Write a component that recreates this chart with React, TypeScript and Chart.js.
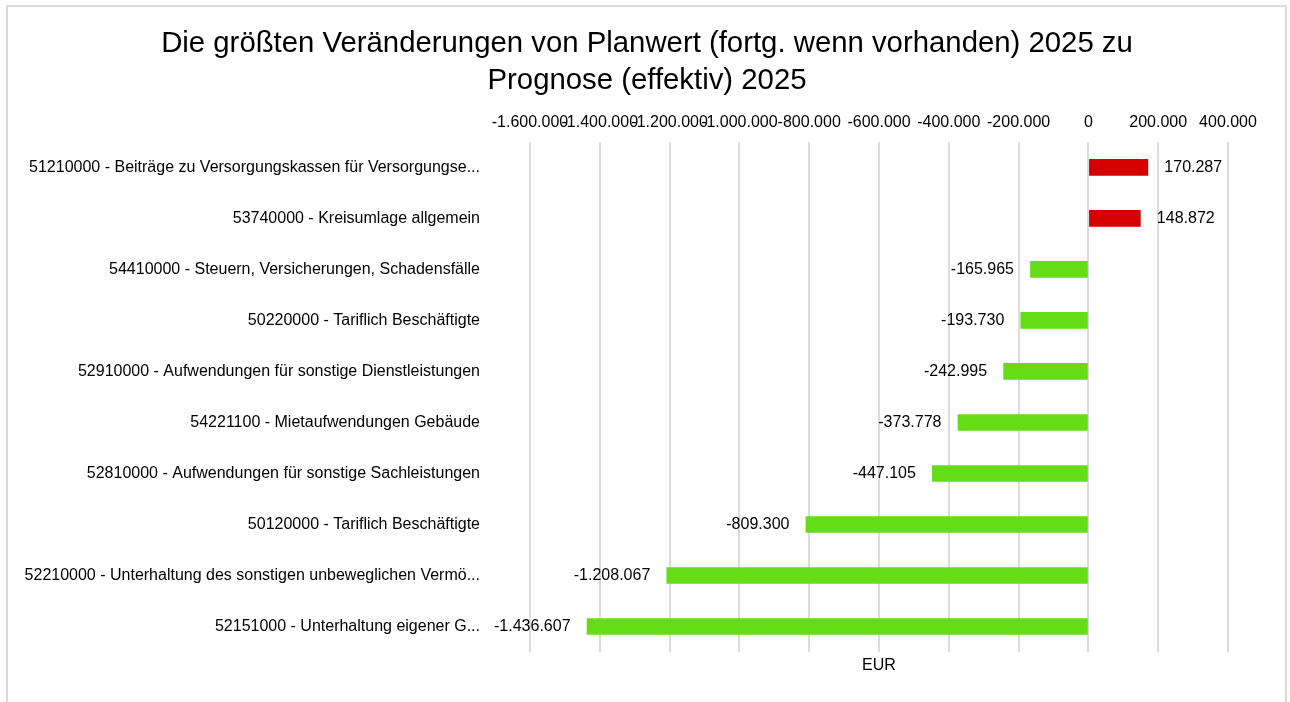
import React, { useEffect, useRef } from 'react';
import { Chart, registerables } from 'chart.js';

Chart.register(...registerables);

const titleLines = [
  'Die größten Veränderungen von Planwert (fortg. wenn vorhanden) 2025 zu',
  'Prognose (effektiv) 2025',
];

const categories = [
  '51210000 - Beiträge zu Versorgungskassen für Versorgungse...',
  '53740000 - Kreisumlage allgemein',
  '54410000 - Steuern, Versicherungen, Schadensfälle',
  '50220000 - Tariflich Beschäftigte',
  '52910000 - Aufwendungen für sonstige Dienstleistungen',
  '54221100 - Mietaufwendungen Gebäude',
  '52810000 - Aufwendungen für sonstige Sachleistungen',
  '50120000 - Tariflich Beschäftigte',
  '52210000 - Unterhaltung des sonstigen unbeweglichen Vermö...',
  '52151000 - Unterhaltung eigener G...',
];

const values = [170287, 148872, -165965, -193730, -242995, -373778, -447105, -809300, -1208067, -1436607];

const axisMin = -1600000;
const axisMax = 400000;
const axisStep = 200000;
const axisTitle = 'EUR';

const positiveColor = '#D50000';
const negativeColor = '#64DD17';
const FONT = "'Liberation Sans', Arial, sans-serif";

function fmt(n: number): string {
  const s = Math.abs(Math.round(n)).toString().replace(/\B(?=(\d{3})+(?!\d))/g, '.');
  return (n < 0 ? '-' : '') + s;
}

const borderPlugin = {
  id: 'frameBorder',
  beforeDraw(chart: any) {
    const ctx = chart.ctx;
    ctx.save();
    ctx.fillStyle = '#ffffff';
    ctx.fillRect(0, 0, chart.width, chart.height);
    ctx.strokeStyle = '#d9d9d9';
    ctx.lineWidth = 2;
    ctx.strokeRect(7, 6, 1279, 800);
    ctx.restore();
  },
};

const valueLabelPlugin = {
  id: 'valueLabels',
  afterDatasetsDraw(chart: any) {
    const ctx = chart.ctx;
    const meta = chart.getDatasetMeta(0);
    const area = chart.chartArea;
    ctx.save();
    ctx.font = `16px ${FONT}`;
    ctx.fillStyle = '#000';
    ctx.textBaseline = 'middle';
    meta.data.forEach((el: any, i: number) => {
      const v = values[i];
      if (v >= 0) {
        ctx.textAlign = 'left';
        ctx.fillText(fmt(v), el.x + 16.5, el.y);
      } else {
        ctx.textAlign = 'right';
        ctx.fillText(fmt(v), el.x - 16.5, el.y);
      }
    });
    ctx.textAlign = 'center';
    ctx.fillText(axisTitle, (area.left + area.right) / 2, area.bottom + 14);
    ctx.restore();
  },
};

export default function App() {
  const ref = useRef<HTMLCanvasElement | null>(null);

  useEffect(() => {
    if (!ref.current) return;
    const chart = new Chart(ref.current, {
      type: 'bar',
      data: {
        labels: categories,
        datasets: [
          {
            data: values,
            backgroundColor: values.map((v) => (v >= 0 ? positiveColor : negativeColor)),
            barThickness: 16,
            borderWidth: 0,
          },
        ],
      },
      options: {
        indexAxis: 'y',
        responsive: false,
        animation: false,
        layout: { padding: { left: 4, right: 0, top: 0, bottom: 50 } },
        plugins: {
          legend: { display: false },
          tooltip: { enabled: false },
          title: {
            display: true,
            text: titleLines,
            color: '#000',
            font: { family: FONT, size: 29.33, weight: 'normal', lineHeight: 1.26 },
            padding: { top: 25, bottom: 0 },
          },
        },
        scales: {
          x: {
            type: 'linear',
            position: 'top',
            min: axisMin,
            max: axisMax,
            afterFit(scale: any) {
              scale.height = 43;
            },
            ticks: {
              stepSize: axisStep,
              autoSkip: false,
              maxRotation: 0,
              minRotation: 0,
              padding: 9.5,
              color: '#000',
              font: { family: FONT, size: 16 },
              callback: (v: any) => fmt(Number(v)),
            },
            grid: { color: '#dcdcdc', lineWidth: 2, drawTicks: false },
            border: { display: false },
          },
          y: {
            type: 'category',
            afterFit(scale: any) {
              scale.width = 526;
              scale.paddingTop = 0;
              scale.paddingBottom = 0;
            },
            ticks: {
              autoSkip: false,
              padding: 50,
              color: '#000',
              font: { family: FONT, size: 16 },
            },
            grid: { display: false, drawTicks: false },
            border: { display: false },
          },
          y2: {
            type: 'linear',
            position: 'right',
            afterFit(scale: any) {
              scale.width = 62;
              scale.paddingTop = 0;
              scale.paddingBottom = 0;
            },
            ticks: { display: false },
            grid: { display: false, drawTicks: false },
            border: { display: false },
          },
        },
      },
      plugins: [borderPlugin, valueLabelPlugin],
    } as any);
    return () => chart.destroy();
  }, []);

  return (
    <div style={{ position: 'absolute', left: 0, top: 0, width: 1290, height: 702 }}>
      <canvas ref={ref} width={1290} height={702} style={{ display: 'block' }} />
    </div>
  );
}
